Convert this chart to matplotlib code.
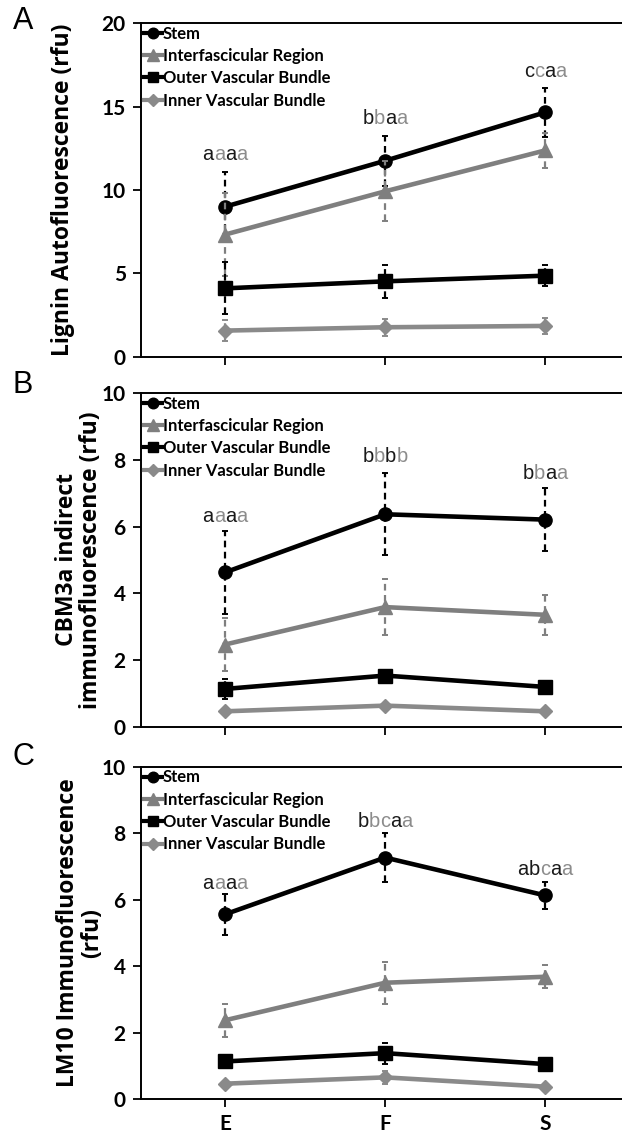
import matplotlib
matplotlib.use("Agg")
from matplotlib import pyplot as plt
from matplotlib.lines import Line2D

plt.rcParams['font.family'] = ['Lato', 'DejaVu Sans']

stages = ['E', 'F', 'S']
series_names = ['Stem', 'Interfascicular Region', 'Outer Vascular Bundle', 'Inner Vascular Bundle']

# panel A: lignin autofluorescence, rows follow series_names
lignin_means = [[9.0, 11.75, 14.65], [7.33, 9.92, 12.37], [4.11, 4.53, 4.87], [1.58, 1.78, 1.86]]
lignin_errs = [[2.1, 1.5, 1.45], [2.5, 1.8, 1.05], [1.55, 1.0, 0.62], [0.65, 0.5, 0.5]]
lignin_letters = ['aaaa', 'bbaa', 'ccaa']
lignin_letter_pos = [12.1, 14.3, 17.1]

# panel B: CBM3a
cbm3a_means = [[4.63, 6.37, 6.21], [2.47, 3.59, 3.36], [1.14, 1.54, 1.2], [0.47, 0.64, 0.47]]
cbm3a_errs = [[1.25, 1.23, 0.95], [0.8, 0.84, 0.6], [0.3, 0.1, 0.15], [0.06, 0.06, 0.06]]
cbm3a_letters = ['aaaa', 'bbbb', 'bbaa']
cbm3a_letter_pos = [6.3, 8.1, 7.6]

# panel C: LM10
lm10_means = [[5.56, 7.27, 6.13], [2.37, 3.5, 3.68], [1.13, 1.38, 1.05], [0.46, 0.65, 0.37]]
lm10_errs = [[0.62, 0.75, 0.4], [0.5, 0.63, 0.35], [0.08, 0.32, 0.1], [0.08, 0.2, 0.05]]
lm10_letters = ['aaaa', 'bbcaa', 'abcaa']
lm10_letter_pos = [6.5, 8.35, 6.9]

# which series owns each letter (0 = black, 1 = gray)
lm10_letter_owner = [[0, 1, 0, 1], [0, 1, 1, 0, 1], [0, 0, 1, 0, 1]]

colors = ['black', '#7f7f7f', 'black', '#8a8a8a']
markers = ['o', '^', 's', 'D']
msizes = [9.5, 10, 9.5, 7.5]
letter_colors = ['#1a1a1a', '#8c8c8c']

fig = plt.figure(figsize=(6.22, 11.34), dpi=100)
left, width = 0.2267, 0.7733
ax_a = fig.add_axes([left, 0.6852, width, 0.2945])
ax_b = fig.add_axes([left, 0.3589, width, 0.2945])
ax_c = fig.add_axes([left, 0.0309, width, 0.2928])

x = list(range(len(stages)))


def colored_label(ax, xpos, ypos, text, owners):
    renderer = fig.canvas.get_renderer()
    kw = dict(fontsize=14.5, family=['Liberation Sans', 'DejaVu Sans'])
    tmp = ax.text(xpos, ypos, text, **kw)
    w = tmp.get_window_extent(renderer).width * 72 / fig.dpi
    tmp.remove()
    prev = ax.annotate(text[0], xy=(xpos, ypos), xytext=(-w / 2, 0),
                       textcoords='offset points', ha='left', va='center',
                       color=letter_colors[owners[0]], **kw)
    for ch, o in zip(text[1:], owners[1:]):
        prev = ax.annotate(ch, xy=(1, 0.5), xycoords=prev, ha='left', va='center',
                           color=letter_colors[o], **kw)


def draw_panel(ax, means, errs, ymax, yticks, letters, letter_pos, owners):
    for i in range(4):
        line, caps, bars = ax.errorbar(x, means[i], yerr=errs[i], color=colors[i], lw=3.3,
                                       marker=markers[i], ms=msizes[i], mec=colors[i],
                                       capsize=2, elinewidth=1.6, capthick=1.4, zorder=3 + i * 0.1)
        bars[0].set_linestyle((0, (3, 2)))
    for xi, t, yp, o in zip(x, letters, letter_pos, owners):
        colored_label(ax, xi, yp, t, o)
    ax.set_xlim(-0.525, 2.48)
    ax.set_ylim(0, ymax)
    ax.set_yticks(yticks)
    ax.set_xticks(x)
    ax.spines['right'].set_visible(False)
    for s in ['left', 'top', 'bottom']:
        ax.spines[s].set_linewidth(1.4)
    ax.tick_params(direction='out', length=6, width=1.3, labelsize=15, pad=5)
    for lbl in ax.get_yticklabels() + ax.get_xticklabels():
        lbl.set_fontweight('bold')
    handles = [Line2D([], [], color=colors[i], lw=3, marker=markers[i], ms=msizes[i] * 0.8)
               for i in range(4)]
    ax.legend(handles, series_names, loc='upper left', bbox_to_anchor=(0.0, 1.0),
              frameon=False, prop=dict(family='Lato', weight='bold', size=12),
              handlelength=1.1, handletextpad=0.05, borderaxespad=0.05, labelspacing=0.38,
              borderpad=0.1)


four = [[0, 1, 0, 1]] * 3
draw_panel(ax_a, lignin_means, lignin_errs, 20, [0, 5, 10, 15, 20], lignin_letters, lignin_letter_pos, four)
draw_panel(ax_b, cbm3a_means, cbm3a_errs, 10, [0, 2, 4, 6, 8, 10], cbm3a_letters, cbm3a_letter_pos, four)
draw_panel(ax_c, lm10_means, lm10_errs, 10, [0, 2, 4, 6, 8, 10], lm10_letters, lm10_letter_pos, lm10_letter_owner)

ax_a.set_xticklabels([])
ax_b.set_xticklabels([])
ax_c.set_xticklabels(stages)
for lbl in ax_c.get_xticklabels():
    lbl.set_fontweight('bold')

ylab_kw = dict(rotation=90, ha='center', va='center', fontsize=16.5,
               family=['Open Sans', 'DejaVu Sans'], weight='bold')
fig.text(63 / 622, 1 - 190 / 1134, 'Lignin Autofluorescence (rfu)', **ylab_kw)
fig.text(79 / 622, 1 - 560 / 1134, 'CBM3a indirect\nimmunofluorescence (rfu)', linespacing=1.05, **ylab_kw)
fig.text(80 / 622, 1 - 933 / 1134, 'LM10 Immunofluorescence\n(rfu)', linespacing=1.05, **ylab_kw)

panel_kw = dict(fontsize=22, family=['Liberation Sans', 'DejaVu Sans'], ha='center', va='center')
fig.text(23 / 622, 1 - 21 / 1134, 'A', **panel_kw)
fig.text(23 / 622, 1 - 385 / 1134, 'B', **panel_kw)
fig.text(23 / 622, 1 - 757 / 1134, 'C', **panel_kw)

fig.savefig('out.png', dpi=100)
